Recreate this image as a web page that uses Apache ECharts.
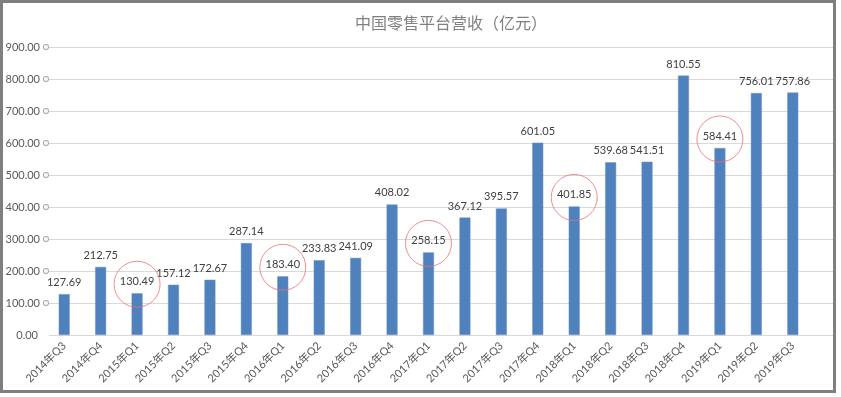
<!DOCTYPE html>
<html>
<head>
<meta charset="utf-8">
<script src="https://cdn.jsdelivr.net/npm/echarts@6/dist/echarts.min.js"></script>
<style>
  html, body { margin: 0; padding: 0; background: #fff; }
  #chart { position: absolute; left: 0; top: 0; width: 841px; height: 397px; }
  #frame { position: absolute; left: 0; top: 0; width: 836px; height: 393px;
           border: 3px solid #7f7f7f; box-sizing: border-box; pointer-events: none; }
</style>
</head>
<body>
<div id="chart"></div>
<div id="frame"></div>
<script>
// 季度
const categories = [
  '2014年Q3', '2014年Q4', '2015年Q1', '2015年Q2', '2015年Q3', '2015年Q4',
  '2016年Q1', '2016年Q2', '2016年Q3', '2016年Q4', '2017年Q1', '2017年Q2',
  '2017年Q3', '2017年Q4', '2018年Q1', '2018年Q2', '2018年Q3', '2018年Q4',
  '2019年Q1', '2019年Q2', '2019年Q3'
]
// 营收（亿元）
const revenue = [
  127.69, 212.75, 130.49, 157.12, 172.67, 287.14, 183.40, 233.83, 241.09, 408.02,
  258.15, 367.12, 395.57, 601.05, 401.85, 539.68, 541.51, 810.55, 584.41, 756.01, 757.86
]
// 红圈标出的季度
const circled = ['2015年Q1', '2016年Q1', '2017年Q1', '2018年Q1', '2019年Q1']
// y 轴刻度
const yTicks = [0, 100, 200, 300, 400, 500, 600, 700, 800, 900]

const textFont = 'Lato, "Noto Sans CJK SC", sans-serif'

const chart = echarts.init(document.getElementById('chart'))

chart.setOption({
  animation: false,
  title: {
    text: '中国零售平台营收（亿元）',
    left: 446,
    top: 10,
    textAlign: 'center',
    textStyle: {
      color: '#808080',
      fontSize: 16,
      fontWeight: 'normal',
      fontFamily: '"Noto Sans CJK SC", sans-serif'
    }
  },
  grid: [
    // 柱子
    {left: 46, right: 30, top: 47, bottom: 62},
    // 网格线和 y 轴标签
    {left: 49, right: 8, top: 47, bottom: 62}
  ],
  xAxis: [
    {
      type: 'category',
      gridIndex: 0,
      data: categories,
      axisLine: {show: false},
      axisTick: {show: false},
      axisLabel: {
        rotate: 45,
        interval: 0,
        margin: 9,
        color: '#595959',
        fontSize: 11,
        fontFamily: textFont
      }
    },
    {
      type: 'value',
      gridIndex: 1,
      show: false
    }
  ],
  yAxis: [
    {
      type: 'value',
      gridIndex: 0,
      min: yTicks[0],
      max: yTicks[yTicks.length - 1],
      interval: 100,
      show: false
    },
    {
      type: 'value',
      gridIndex: 1,
      min: yTicks[0],
      max: yTicks[yTicks.length - 1],
      interval: 100,
      axisLine: {show: false},
      axisTick: {show: false},
      splitLine: {lineStyle: {color: '#d9d9d9', width: 1}},
      axisLabel: {
        margin: 1,
        formatter: v => v === 0 ? '{a|0.00}{n|}' : '{a|' + v.toFixed(2) + '}{c|}',
        rich: {
          a: {color: '#595959', fontSize: 11, fontFamily: textFont, padding: [0, 4, 0, 0]},
          c: {width: 4, height: 4, borderRadius: 3, borderWidth: 1, borderColor: '#a6a6a6', backgroundColor: '#fff'},
          n: {width: 6, height: 4}
        }
      }
    }
  ],
  series: [
    {
      type: 'bar',
      xAxisIndex: 0,
      yAxisIndex: 0,
      barWidth: 11,
      data: revenue,
      itemStyle: {color: '#4f81bd', borderColor: '#6f97c9', borderWidth: 0.5},
      label: {
        show: true,
        position: 'top',
        distance: 6,
        color: '#404040',
        fontSize: 11,
        fontFamily: textFont,
        formatter: p => p.value.toFixed(2)
      }
    },
    {
      type: 'scatter',
      xAxisIndex: 0,
      yAxisIndex: 0,
      silent: true,
      z: 5,
      symbol: 'circle',
      symbolSize: [46, 46],
      symbolOffset: [0, -9],
      itemStyle: {color: 'rgba(0,0,0,0)', borderColor: '#ef6f6f', borderWidth: 1},
      data: circled.map(c => [c, revenue[categories.indexOf(c)]])
    }
  ]
})
</script>
</body>
</html>
